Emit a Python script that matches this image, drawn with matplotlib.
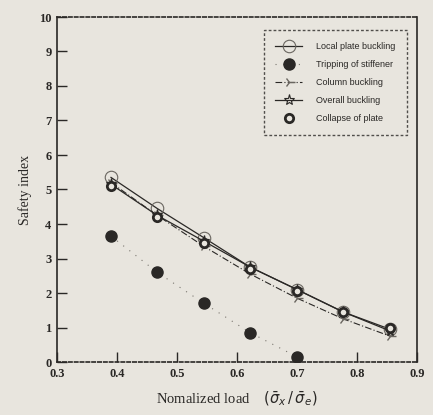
import matplotlib
matplotlib.use("Agg")
import matplotlib.pyplot as plt

x_load = [0.39, 0.467, 0.545, 0.622, 0.70, 0.777, 0.855]
local_plate = [5.35, 4.45, 3.6, 2.75, 2.1, 1.45, 0.95]
tripping_x = [0.39, 0.467, 0.545, 0.622, 0.70]
tripping = [3.65, 2.6, 1.7, 0.85, 0.15]
column = [5.2, 4.25, 3.35, 2.55, 1.85, 1.25, 0.75]
overall = [5.15, 4.25, 3.5, 2.75, 2.1, 1.45, 0.9]
collapse = [5.1, 4.2, 3.45, 2.7, 2.05, 1.45, 1.0]
xticks = [0.3, 0.4, 0.5, 0.6, 0.7, 0.8, 0.9]
yticks = [0, 1, 2, 3, 4, 5, 6, 7, 8, 9, 10]

bg = '#e8e5de'
ink = '#2a2826'
fig = plt.figure(figsize=(4.33, 4.15), dpi=100, facecolor=bg)
ax = fig.add_axes([57/433, 1-362/415, (417-57)/433, (362-17)/415], facecolor=bg)

ax.plot(x_load, local_plate, '-', color=ink, lw=0.9, marker='o', mfc='none', mec='#6a6660',
        ms=9, mew=0.8, label='Local plate buckling')
ax.plot(tripping_x, tripping, linestyle=(0, (1, 6)), color='#7a766f', lw=0.8, marker='o',
        mfc=ink, mec=ink, ms=8, label='Tripping of stiffener')
ax.plot(x_load, column, linestyle=(0, (6, 2, 1, 2)), color=ink, lw=0.8, marker='4',
        mec='#6a6660', ms=8, label='Column buckling')
ax.plot(x_load, overall, '-', color=ink, lw=0.9, marker='*', mec=ink, mfc='none',
        ms=8, mew=0.8, label='Overall buckling')
ax.plot(x_load, collapse, linestyle='none', marker='o', mfc=bg, mec=ink, ms=6, mew=2,
        label='Collapse of plate')

ax.set_xlim(0.3, 0.9)
ax.set_ylim(0, 10)
ax.set_xticks(xticks)
ax.set_yticks(yticks)
ax.set_xticklabels([f'{v:.1f}' for v in xticks], family='Liberation Serif', fontsize=9,
                   color=ink, fontweight='bold')
ax.set_yticklabels([str(v) for v in yticks], family='Liberation Serif', fontsize=9,
                   color=ink, fontweight='bold')
ax.tick_params(direction='in', length=7, width=1.0, color=ink, pad=4)

for s in ['top', 'bottom']:
    ax.spines[s].set_linestyle((0, (2, 1.5)))
for s in ax.spines.values():
    s.set_color(ink)
    s.set_linewidth(1.2)

ax.set_ylabel('Safety index', family='Liberation Serif', fontsize=10, color=ink, labelpad=5)
ax.set_xlabel(r'Nomalized load    $(\bar{\sigma}_x\,/\,\bar{\sigma}_e)$', family='Liberation Serif',
              fontsize=10.5, color=ink, labelpad=7)

leg = ax.legend(loc='upper right', bbox_to_anchor=(0.985, 0.975), prop={'family': 'Liberation Sans', 'size': 6.5},
                frameon=True, fancybox=False, handlelength=3, labelspacing=1.0,
                borderpad=1.3, handletextpad=1.5)
frame = leg.get_frame()
frame.set_facecolor(bg)
frame.set_edgecolor(ink)
frame.set_linestyle((0, (2, 1.5)))
frame.set_linewidth(1.0)
for t in leg.get_texts():
    t.set_color(ink)

fig.savefig('out.png', dpi=100, facecolor=bg)
